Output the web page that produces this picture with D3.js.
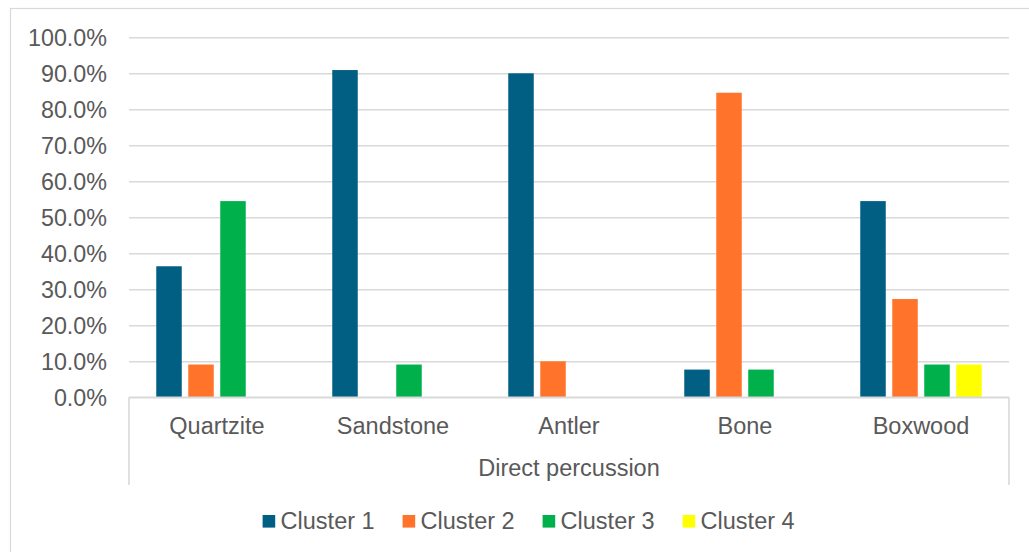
<!DOCTYPE html>
<html>
<head>
<meta charset="utf-8">
<script src="https://cdn.jsdelivr.net/npm/d3@7"></script>
<style>
  html, body { margin: 0; padding: 0; background: #fff; }
  svg { display: block; }
  text { font-family: "Liberation Sans", Arial, sans-serif; fill: #595959; }
</style>
</head>
<body>
<svg id="chart" width="1029" height="552"></svg>
<script>
const categories = ["Quartzite", "Sandstone", "Antler", "Bone", "Boxwood"];
const groupLabel = "Direct percussion";
const seriesNames = ["Cluster 1", "Cluster 2", "Cluster 3", "Cluster 4"];
const seriesColors = ["#005F83", "#FF742A", "#00B14B", "#FFFF00"];
const cluster1 = [36.4, 90.9, 90.0, 7.7, 54.5];
const cluster2 = [9.1, 0, 10.0, 84.6, 27.3];
const cluster3 = [54.5, 9.1, 0, 7.7, 9.1];
const cluster4 = [0, 0, 0, 0, 9.1];
const seriesValues = [cluster1, cluster2, cluster3, cluster4];
const yTicks = [0, 10, 20, 30, 40, 50, 60, 70, 80, 90, 100];

const svg = d3.select("#chart");
const plotLeft = 129, plotRight = 1009, plotTop = 37.3, plotBottom = 397.3;
const gridColor = "#D9D9D9";

// outer chart border
svg.append("rect").attr("x", 10.5).attr("y", 8.5).attr("width", 1040).attr("height", 560)
  .attr("fill", "#fff").attr("stroke", gridColor).attr("stroke-width", 1.2);

const y = d3.scaleLinear().domain([0, 100]).range([plotBottom, plotTop]);
const x0 = d3.scaleBand().domain(categories).range([plotLeft, plotRight]).paddingInner(0).paddingOuter(0);
const x1 = d3.scaleBand().domain(seriesNames).range([0, x0.bandwidth()])
  .paddingInner(0.203).paddingOuter(0.852);

// gridlines + y labels via axis
const yAxis = d3.axisLeft(y).tickValues(yTicks).tickSize(-(plotRight - plotLeft)).tickPadding(22)
  .tickFormat(d => d.toFixed(1) + "%");
const gy = svg.append("g").attr("transform", `translate(${plotLeft},0)`).call(yAxis);
gy.select(".domain").remove();
gy.selectAll(".tick line").attr("stroke", gridColor).attr("stroke-width", 1.6);
gy.selectAll(".tick text").attr("font-size", "23.3px").attr("fill", "#595959")
  .attr("dy", "0.35em").attr("x", -22);

// bars
const rows = categories.map((c, i) => ({ cat: c, vals: seriesNames.map((s, j) => ({ s, j, v: seriesValues[j][i] })) }));
const g = svg.append("g");
g.selectAll("g.grp").data(rows).join("g").attr("class", "grp")
  .attr("transform", d => `translate(${x0(d.cat)},0)`)
  .selectAll("rect").data(d => d.vals.filter(e => e.v > 0)).join("rect")
  .attr("x", d => x1(d.s)).attr("width", x1.bandwidth())
  .attr("y", d => y(d.v)).attr("height", d => y(0) - y(d.v))
  .attr("fill", d => seriesColors[d.j]);

// category axis box
const axisBottom = 485;
svg.append("line").attr("x1", plotLeft).attr("x2", plotRight).attr("y1", plotBottom).attr("y2", plotBottom)
  .attr("stroke", gridColor).attr("stroke-width", 1.6);
svg.append("line").attr("x1", plotLeft).attr("x2", plotLeft).attr("y1", plotBottom).attr("y2", axisBottom)
  .attr("stroke", gridColor).attr("stroke-width", 1.6);
svg.append("line").attr("x1", plotRight).attr("x2", plotRight).attr("y1", plotBottom).attr("y2", axisBottom)
  .attr("stroke", gridColor).attr("stroke-width", 1.6);

svg.append("g").selectAll("text").data(categories).join("text")
  .attr("x", d => x0(d) + x0.bandwidth() / 2).attr("y", 434.3)
  .attr("text-anchor", "middle").attr("font-size", "23.5px").text(d => d);

svg.append("text").attr("x", (plotLeft + plotRight) / 2).attr("y", 476)
  .attr("text-anchor", "middle").attr("font-size", "23.5px").text(groupLabel);

// legend
const legendX = d3.scaleOrdinal().domain(seriesNames).range([262.6, 402.6, 542.6, 682.6]);
const lg = svg.append("g").selectAll("g").data(seriesNames).join("g")
  .attr("transform", d => `translate(${legendX(d)},0)`);
lg.append("rect").attr("x", 0).attr("y", 515).attr("width", 12.6).attr("height", 12.6)
  .attr("fill", (d, i) => seriesColors[i]);
lg.append("text").attr("x", 18).attr("y", 528.5).attr("font-size", "23.5px").text(d => d);
</script>
</body>
</html>
